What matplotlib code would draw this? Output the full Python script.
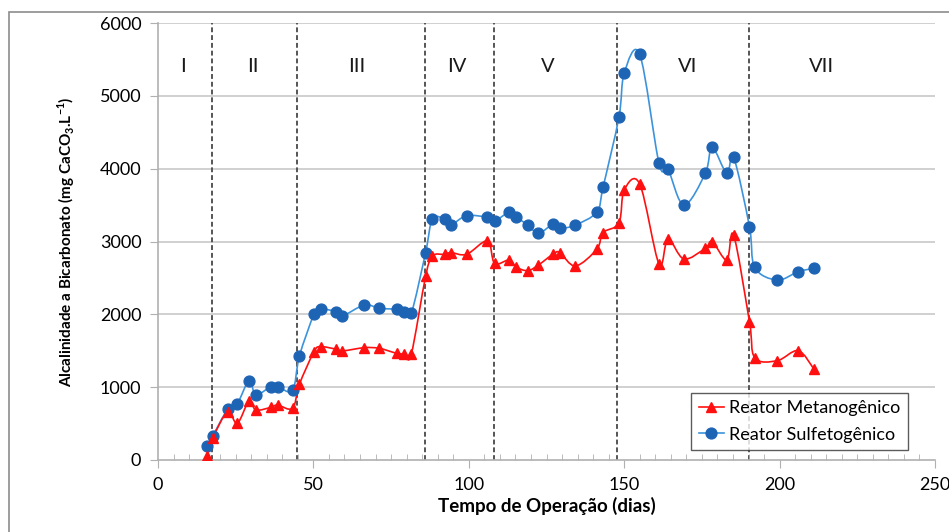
import matplotlib
matplotlib.use("Agg")
import matplotlib.pyplot as plt
from matplotlib.path import Path
from matplotlib.patches import PathPatch, Rectangle
from matplotlib.lines import Line2D
import numpy as np

plt.rcParams['font.family'] = ['Lato', 'DejaVu Sans']
plt.rcParams['mathtext.fontset'] = 'custom'
plt.rcParams['mathtext.rm'] = 'Lato'
plt.rcParams['mathtext.bf'] = 'Lato:bold'

# dias de operacao (mesmos para os dois reatores)
dias = [15.7, 17.6, 22.4, 25.5, 29.3, 31.5, 36.3, 38.5, 43.3, 45.5,
        50.2, 52.3, 57.4, 59.3, 66.4, 71.2, 76.8, 79.3, 81.5, 86.1,
        88.3, 92.2, 94.3, 99.3, 106.0, 108.3, 113.0, 115.3, 119.0, 122.4,
        127.2, 129.3, 134.3, 141.2, 143.2, 148.3, 150.0, 155.0, 161.2, 164.1,
        169.2, 176.1, 178.3, 183.0, 185.2, 190.3, 192.0, 199.2, 206.0, 211.1]

metano = [60, 300, 663, 503, 810, 686, 723, 755, 710, 1040,
          1487, 1556, 1520, 1497, 1542, 1533, 1465, 1455, 1455, 2520,
          2801, 2824, 2847, 2824, 3007, 2700, 2746, 2646, 2600, 2677,
          2829, 2847, 2664, 2895, 3121, 3255, 3707, 3790, 2691, 3034,
          2760, 2907, 2998, 2746, 3089, 1899, 1405, 1363, 1501, 1245]

sulfeto = [196, 330, 696, 773, 1089, 897, 1007, 1007, 957, 1428,
           2000, 2073, 2036, 1977, 2128, 2083, 2069, 2036, 2014, 2847,
           3309, 3309, 3231, 3354, 3332, 3282, 3401, 3332, 3227, 3112,
           3240, 3181, 3227, 3405, 3745, 4705, 5310, 5570, 4074, 3991,
           3501, 3936, 4293, 3936, 4156, 3204, 2646, 2471, 2586, 2632]

fases = [17.5, 44.7, 86.0, 108.1, 147.8, 190.2]
fase_nomes = ['I', 'II', 'III', 'IV', 'V', 'VI', 'VII']
fase_x = [8, 30.5, 64, 96, 125.5, 170.5, 213.5]

RED = '#FF1010'
BLUE_LINE = '#3C93DC'
BLUE_MK = '#1E64B4'


def smooth(x, y):
    # curva suavizada tipo Excel (bezier cubica)
    x = np.asarray(x, float)
    y = np.asarray(y, float)
    n = len(x)
    verts = [(x[0], y[0])]
    codes = [Path.MOVETO]
    for i in range(n - 1):
        a = max(i - 1, 0)
        b = min(i + 2, n - 1)
        c1 = (x[i] + (x[i + 1] - x[a]) / 6, y[i] + (y[i + 1] - y[a]) / 6)
        c2 = (x[i + 1] - (x[b] - x[i]) / 6, y[i + 1] - (y[b] - y[i]) / 6)
        verts += [c1, c2, (x[i + 1], y[i + 1])]
        codes += [Path.CURVE4] * 3
    return Path(verts, codes)


fig = plt.figure(figsize=(9.49, 5.32), dpi=100)
ax = fig.add_axes([158 / 949, 1 - 460 / 532, (935 - 158) / 949, (460 - 23) / 532])

fig.patches.append(Rectangle((9 / 949, -0.1), 1.2, 1 - 12 / 532 + 0.1,
                             transform=fig.transFigure, fill=False,
                             edgecolor='#8c8c8c', lw=1.2))

ax.set_xlim(0, 250)
ax.set_ylim(0, 6000)

for v in range(1000, 6001, 1000):
    ax.axhline(v, color='#c8c8c8', lw=1.2, zorder=0)

for f in fases:
    ax.axvline(f, color='#555555', lw=1.4, ls=(0, (2.5, 1.5)), zorder=1)

for nome, xp in zip(fase_nomes, fase_x):
    ax.text(xp, 5400, nome, ha='center', va='center', fontsize=14.5, color='#1a1a1a')

ax.add_patch(PathPatch(smooth(dias, sulfeto), fill=False, edgecolor=BLUE_LINE, lw=1.2, zorder=3))
ax.add_patch(PathPatch(smooth(dias, metano), fill=False, edgecolor=RED, lw=1.2, zorder=3))
ax.plot(dias, sulfeto, ls='none', marker='o', ms=7.8, color=BLUE_MK, zorder=4)
ax.plot(dias, metano, ls='none', marker='^', ms=7.2, color=RED, zorder=5)

for s in ['top', 'right']:
    ax.spines[s].set_visible(False)
for s in ['left', 'bottom']:
    ax.spines[s].set_color('#b0b0b0')
    ax.spines[s].set_linewidth(1.2)

ax.set_xticks(range(0, 251, 50))
ax.set_xticks(range(0, 251, 5), minor=True)
ax.set_yticks(range(0, 6001, 1000))
ax.tick_params(axis='x', which='major', direction='out', length=6, color='#b0b0b0', labelsize=13, pad=6)
ax.tick_params(axis='x', which='minor', direction='in', length=4, color='#b0b0b0')
ax.tick_params(axis='y', which='major', direction='out', length=6, color='#b0b0b0', labelsize=13, pad=6)

ax.set_xlabel('Tempo de Operação (dias)', fontsize=13.5, fontweight='bold', labelpad=3)
ax.set_ylabel(r'Alcalinidade a Bicarbonato (mg CaCO$_\mathbf{3}$.L$^\mathbf{-1}$)',
              fontsize=11, fontweight='bold', labelpad=16)

handles = [
    Line2D([], [], color=RED, marker='^', ms=7.2, lw=1.2),
    Line2D([], [], color=BLUE_LINE, marker='o', ms=7.8, mfc=BLUE_MK, mec=BLUE_MK, lw=1.2),
]
leg = ax.legend(handles, ['Reator Metanogênico', 'Reator Sulfetogênico'],
                loc='lower right', bbox_to_anchor=(0.965, 0.023), fontsize=13,
                frameon=True, fancybox=False, handlelength=1.4, handletextpad=0.3,
                borderpad=0.4, labelspacing=0.6, borderaxespad=0)
leg.get_frame().set_edgecolor('#333333')
leg.get_frame().set_linewidth(1.0)

fig.savefig('out.png', dpi=100)
